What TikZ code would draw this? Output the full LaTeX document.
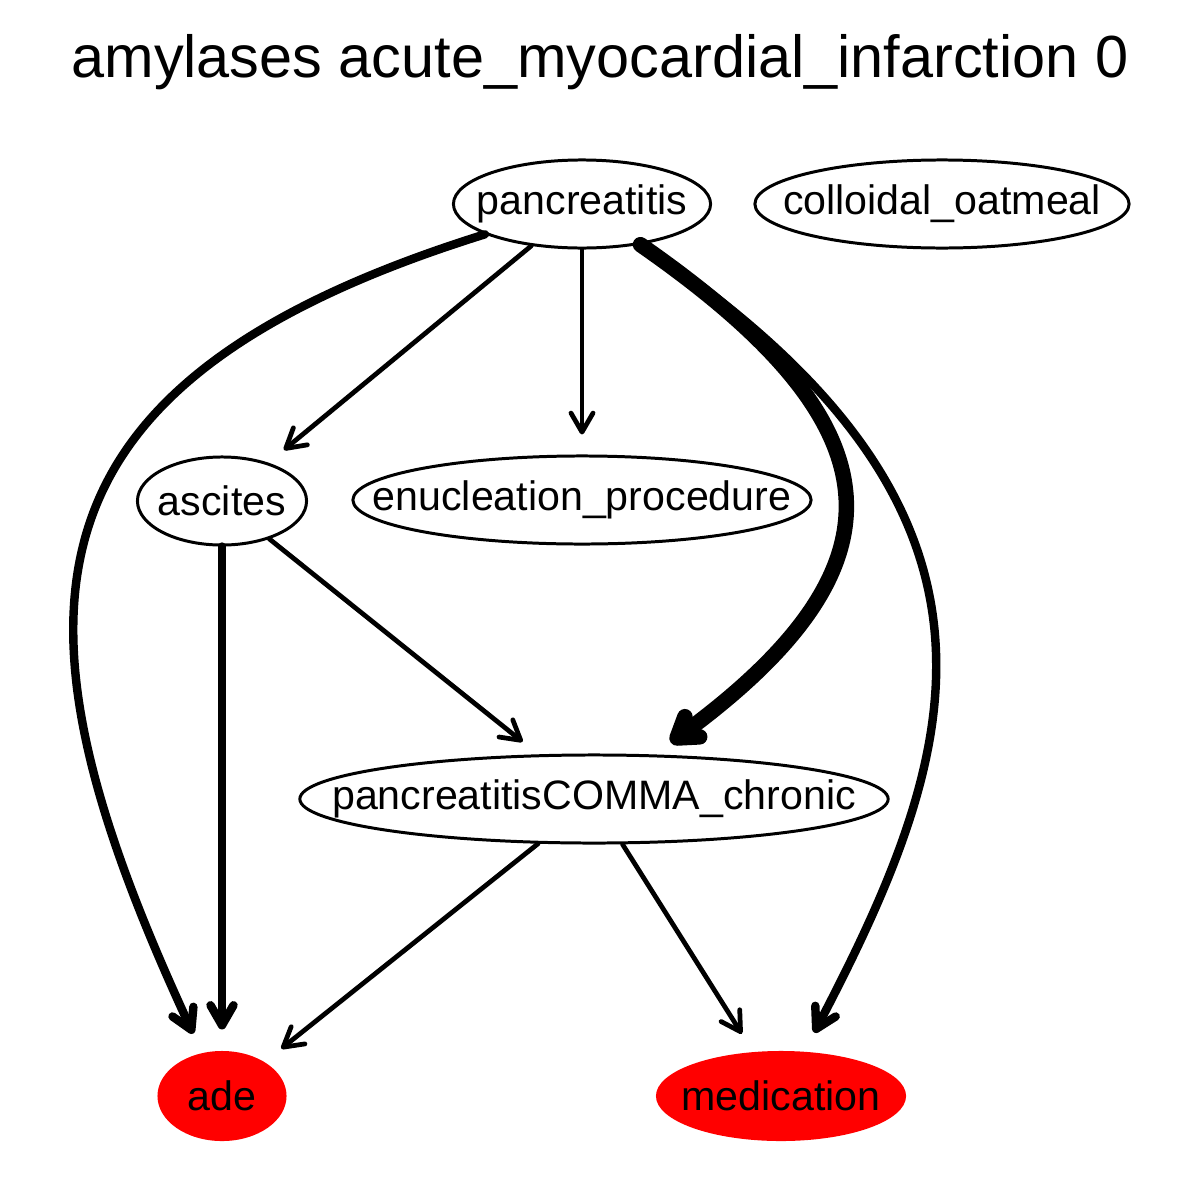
\documentclass[tikz,border=0pt]{standalone}
\usepackage{fontspec}
\setmainfont{Liberation Sans}
\usepackage{tikz}
\usetikzlibrary{arrows.meta,positioning,shapes.geometric}
\newcommand{\nlabel}[1]{\makebox[0pt]{\raisebox{-0.02cm}{#1}}}

\begin{document}
\begin{tikzpicture}[x=0.01cm,y=-0.01cm,line cap=round,line join=round]
  \tikzstyle{varnode}=[draw,ellipse,line width=0.85pt,inner sep=0pt,minimum height=0.88cm,font=\fontsize{11.7}{14}\selectfont]
  \tikzstyle{outnode}=[varnode,draw=none,fill=red,minimum height=0.9cm]
  \tikzstyle{thinedge}=[line width=1.35pt,-{Straight Barb[length=0.19cm,width=0.22cm,round]},shorten >=0.2cm]
  \tikzstyle{thickedge}=[line width=2.4pt,-{Straight Barb[length=0.2cm,width=0.23cm,round]},shorten >=0.2cm]
  \tikzstyle{heavyedge}=[line width=4.4pt,-{Straight Barb[length=0.19cm,width=0.25cm,round]},shorten >=0.2cm]
  \useasboundingbox (0,0) rectangle (1200,1200);
  \node[font=\fontsize{16.9}{20}\selectfont] (title) at (600,62) {amylases acute\_myocardial\_infarction 0};
  \node[varnode,minimum width=2.57cm] (pancreatitis) at (582,204) {\nlabel{pancreatitis}};
  \node[varnode,minimum width=3.74cm] (oatmeal) at (942,204) {\nlabel{colloidal\_oatmeal}};
  \node[varnode,minimum width=1.69cm] (ascites) at (222,501) {\nlabel{ascites}};
  \node[varnode,minimum width=4.58cm] (enucleation) at (582,500) {\nlabel{enucleation\_procedure}};
  \node[varnode,minimum width=5.88cm] (chronic) at (594,799) {\nlabel{pancreatitisCOMMA\_chronic}};
  \node[outnode,minimum width=1.29cm] (ade) at (222,1096) {\nlabel{ade}};
  \node[outnode,minimum width=2.5cm] (medication) at (781,1096) {\nlabel{medication}};
  % straight edges
  \draw[thinedge] (pancreatitis) -- (ascites);
  \draw[thinedge] (pancreatitis) -- (enucleation);
  \draw[thinedge] (ascites) -- (chronic);
  \draw[thinedge] (chronic) -- (ade);
  \draw[thinedge] (chronic) -- (medication);
  \draw[thickedge] (ascites) -- (ade);
  % curved edges
  \draw[thickedge] (pancreatitis) .. controls (-1,386) and (4,625) .. (ade);
  \draw[thickedge] (pancreatitis) .. controls (1040,510) and (965,745) .. (medication);
  \draw[heavyedge] (pancreatitis) .. controls (891,419) and (922,558) .. (chronic);
\end{tikzpicture}
\end{document}
